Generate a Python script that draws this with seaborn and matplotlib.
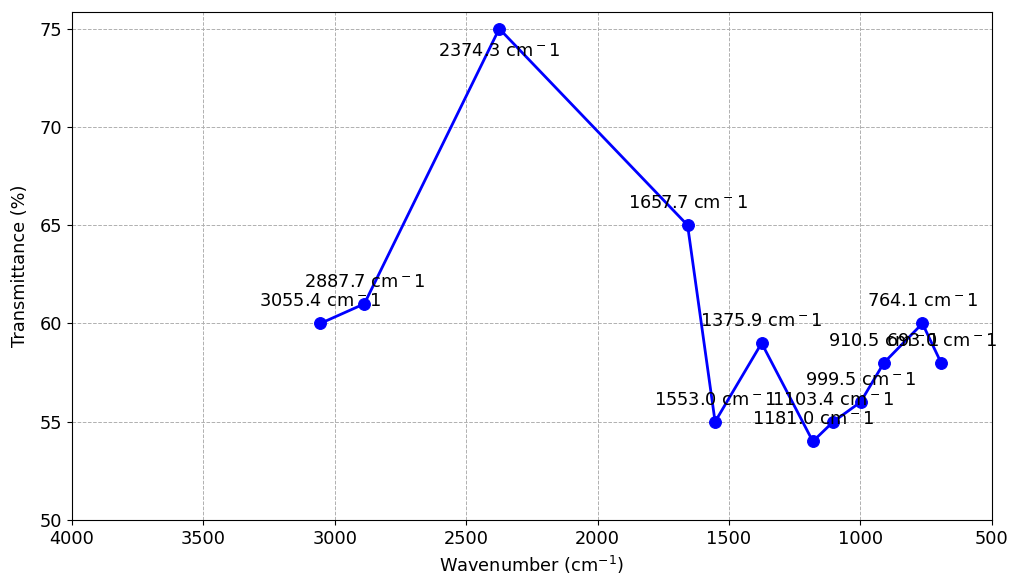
import matplotlib
matplotlib.use("Agg")
import matplotlib.pyplot as plt
import seaborn as sns
import pandas as pd

# IR peak positions and transmittance
wavenumbers = [3055.4, 2887.7, 2374.3, 1657.7, 1553.0, 1375.9, 1181.0, 1103.4, 999.5, 910.5, 764.1, 693.0]
transmittance = [60, 61, 75, 65, 55, 59, 54, 55, 56, 58, 60, 58]
x_ticks = [4000, 3500, 3000, 2500, 2000, 1500, 1000, 500]
y_ticks = [50, 55, 60, 65, 70, 75]

df = pd.DataFrame({"wavenumber": wavenumbers, "transmittance": transmittance})

sns.set_style("ticks")
plt.rcParams["font.family"] = ["DejaVu Sans"]
plt.rcParams["text.color"] = "black"
plt.rcParams["axes.labelcolor"] = "black"
plt.rcParams["xtick.color"] = "black"
plt.rcParams["ytick.color"] = "black"

FS = 12.8

fig = plt.figure(figsize=(10.1, 5.76), dpi=100)
ax = fig.add_axes([0.0713, 0.0972, 0.9107, 0.8820])

sns.lineplot(data=df, x="wavenumber", y="transmittance", ax=ax, sort=False,
             color="blue", linewidth=2, marker="o", markersize=8.5,
             markeredgecolor="blue", markerfacecolor="blue")

# peak labels
peak_idx = transmittance.index(max(transmittance))
for i, (x, y) in enumerate(zip(wavenumbers, transmittance)):
    dy = -16 if i == peak_idx else 16
    ax.annotate(f"{x:.1f} cm$^-$1", (x, y), xytext=(0, dy),
                textcoords="offset points", ha="center", va="center", fontsize=FS)

ax.set_xlim(4000, 500)
ax.set_ylim(50, 75.85)
ax.set_xticks(x_ticks)
ax.set_yticks(y_ticks)
ax.tick_params(labelsize=FS, colors="black")
ax.set_xlabel("Wavenumber (cm$^{-1}$)", fontsize=FS, labelpad=4.5)
ax.set_ylabel("Transmittance (%)", fontsize=FS, labelpad=8)
ax.grid(True, linestyle="--", color="#b0b0b0", linewidth=0.7)
for s in ax.spines.values():
    s.set_visible(True)
    s.set_color("black")

fig.savefig("out.png", dpi=100)
